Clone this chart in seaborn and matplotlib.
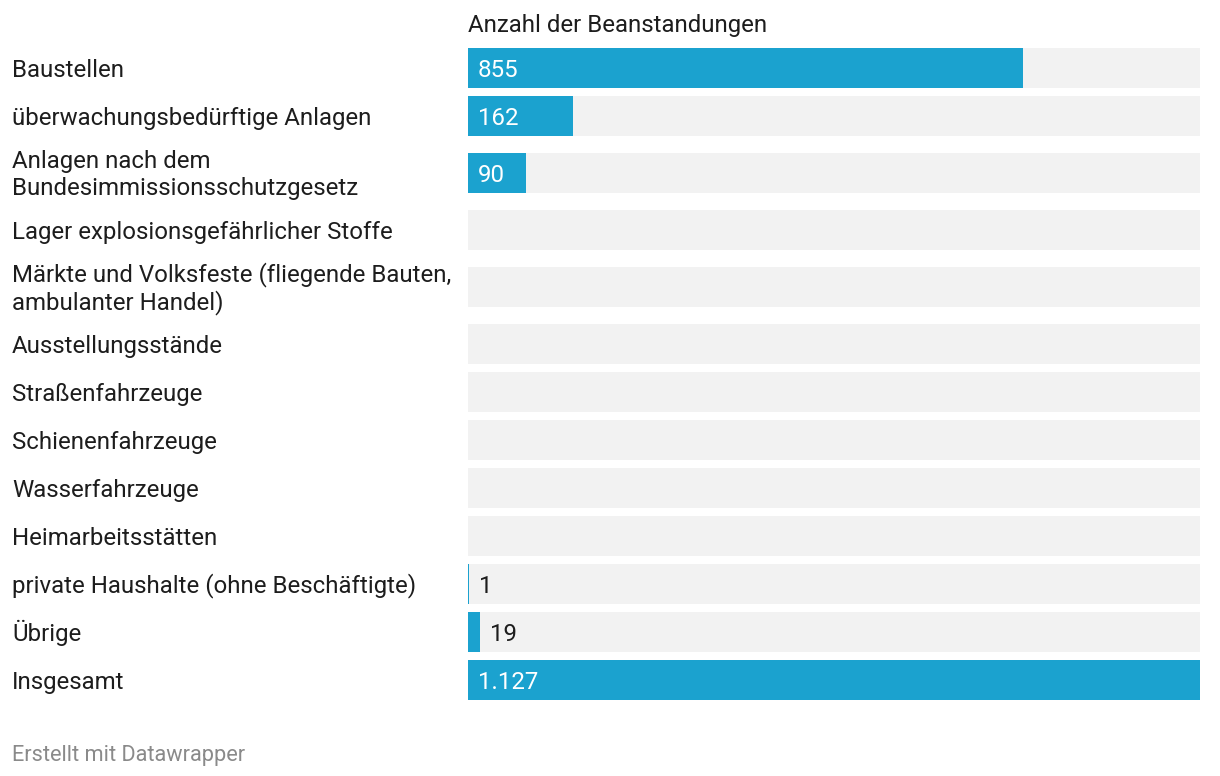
import numpy as np
import pandas as pd
import matplotlib
matplotlib.use("Agg")
import matplotlib.pyplot as plt
import seaborn as sns

categories = [
    "Baustellen",
    "überwachungsbedürftige Anlagen",
    "Anlagen nach dem\nBundesimmissionsschutzgesetz",
    "Lager explosionsgefährlicher Stoffe",
    "Märkte und Volksfeste (fliegende Bauten,\nambulanter Handel)",
    "Ausstellungsstände",
    "Straßenfahrzeuge",
    "Schienenfahrzeuge",
    "Wasserfahrzeuge",
    "Heimarbeitsstätten",
    "private Haushalte (ohne Beschäftigte)",
    "Übrige",
    "Insgesamt",
]
values = [855, 162, 90, np.nan, np.nan, np.nan, np.nan, np.nan, np.nan, np.nan, 1, 19, 1127]
value_labels = ["855", "162", "90", "", "", "", "", "", "", "", "1", "19", "1.127"]
title = "Anzahl der Beanstandungen"
footer = "Erstellt mit Datawrapper"

sns.set_theme(style="white")
plt.rcParams["font.family"] = ["Roboto", "DejaVu Sans"]

W, H = 1220, 776
fig = plt.figure(figsize=(W / 100, H / 100), dpi=100)
fig.patch.set_facecolor("white")
left_px, right_px = 468, 1200
ax = fig.add_axes([left_px / W, 0, (right_px - left_px) / W, 1])
ax.set_facecolor("none")

# row centres (pixels from the top), derived from label line counts
pitch, extra = 48, 9
centers = []
y = 68
for i, c in enumerate(categories):
    n = c.count("\n") + 1
    if i > 0:
        y += pitch
    if n > 1:
        y += extra
    centers.append(y)
    if n > 1:
        y += extra

vmax = np.nanmax(values)
df = pd.DataFrame({"cat": categories, "pos": centers, "val": values,
                   "bg": [vmax] * len(categories)})

bar_w = 40 / 48
sns.barplot(data=df, x="bg", y="pos", orient="h", native_scale=True,
            color="#f2f2f2", width=bar_w, errorbar=None, ax=ax,
            saturation=1, linewidth=0)
sns.barplot(data=df.dropna(subset=["val"]), x="val", y="pos", orient="h",
            native_scale=True, color="#1ba2cf", width=bar_w, errorbar=None,
            ax=ax, saturation=1, linewidth=0)

ax.set_xlim(0, vmax)
ax.set_ylim(H, 0)
ax.axis("off")

fs = 17.3
cap = 0.711 * fs * 100 / 72      # cap height in px
line_h = 27.3
text_col = "#1d1d1d"


def fy(px):
    return 1 - px / H


for cat, pos, val, lab in zip(categories, centers, values, value_labels):
    lines = cat.split("\n")
    n = len(lines)
    for k, ln in enumerate(lines):
        base = pos + cap / 2 + (k - (n - 1) / 2) * line_h
        fig.text(12 / W, fy(base), ln, ha="left", va="baseline",
                 fontsize=fs, color=text_col)
    if np.isnan(val) or lab == "":
        continue
    base = pos + cap / 2
    if val / vmax * (right_px - left_px) > 50:
        fig.text((left_px + 10) / W, fy(base), lab, ha="left", va="baseline",
                 fontsize=fs, color="white")
    else:
        xpx = left_px + val / vmax * (right_px - left_px) + 10
        fig.text(xpx / W, fy(base), lab, ha="left", va="baseline",
                 fontsize=fs, color=text_col)

fig.text(left_px / W, fy(32), title, ha="left", va="baseline",
         fontsize=fs, color=text_col)
fig.text(12 / W, fy(761), footer, ha="left", va="baseline",
         fontsize=15.7, color="#8a8a8a")

fig.savefig("out.png", dpi=100, facecolor="white")
